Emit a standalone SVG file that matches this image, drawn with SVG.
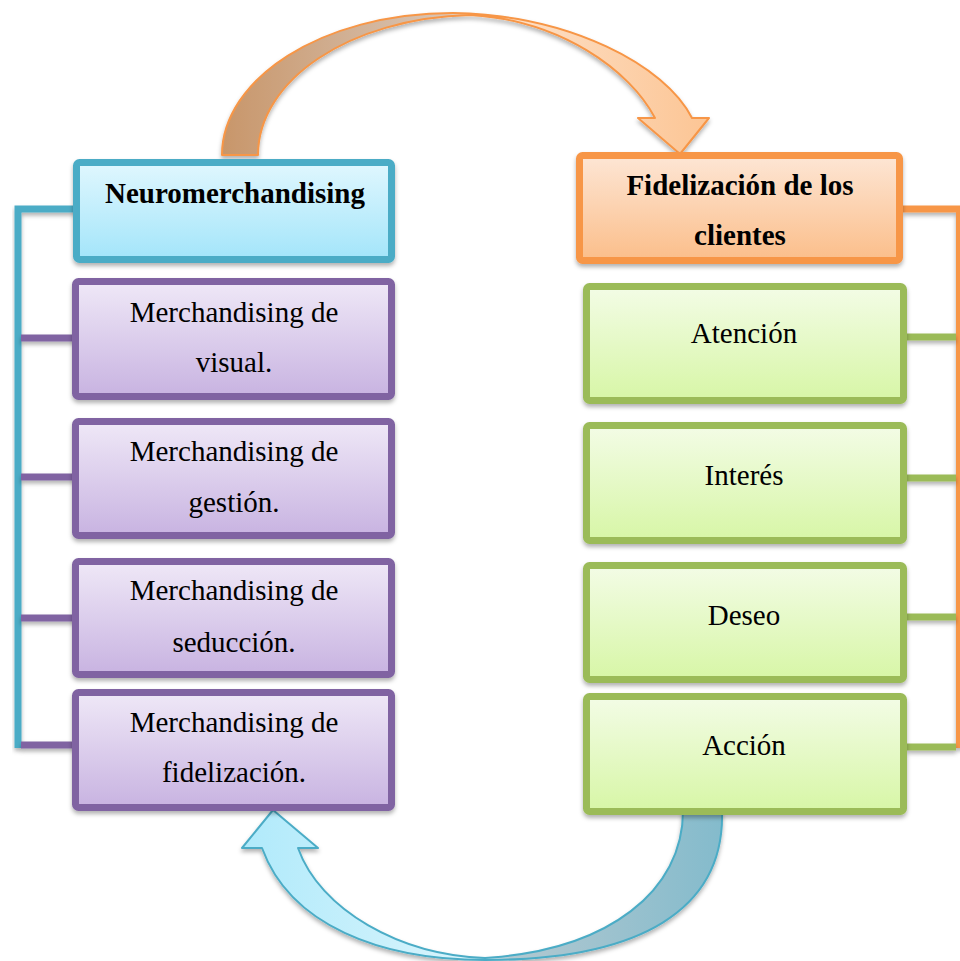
<svg xmlns="http://www.w3.org/2000/svg" width="960" height="961" viewBox="0 0 960 961">
<defs>
<filter id="sh" x="-10%" y="-10%" width="120%" height="130%">
<feDropShadow dx="0" dy="3" stdDeviation="2" flood-color="#000" flood-opacity="0.3"/>
</filter>
<linearGradient id="gBlue" x1="0" y1="0" x2="0" y2="1"><stop offset="0" stop-color="#e0f7fe"/><stop offset="1" stop-color="#a3e5fa"/></linearGradient>
<linearGradient id="gOrange" x1="0" y1="0" x2="0" y2="1"><stop offset="0" stop-color="#fde6d5"/><stop offset="1" stop-color="#fbbe8a"/></linearGradient>
<linearGradient id="gPurple" x1="0" y1="0" x2="0" y2="1"><stop offset="0" stop-color="#efe8f7"/><stop offset="1" stop-color="#c8b3e1"/></linearGradient>
<linearGradient id="gGreen" x1="0" y1="0" x2="0" y2="1"><stop offset="0" stop-color="#f3fce6"/><stop offset="1" stop-color="#d7f6a6"/></linearGradient>
<linearGradient id="gTop" gradientUnits="userSpaceOnUse" x1="222" y1="0" x2="710" y2="0">
<stop offset="0" stop-color="#c8966a"/><stop offset="0.45" stop-color="#d8c4b4"/><stop offset="0.55" stop-color="#fde3cd"/><stop offset="1" stop-color="#fcc594"/></linearGradient>
<linearGradient id="gBot" gradientUnits="userSpaceOnUse" x1="242" y1="0" x2="722" y2="0">
<stop offset="0" stop-color="#b0eafb"/><stop offset="0.5" stop-color="#dcf5fc"/><stop offset="0.56" stop-color="#b2c8d0"/><stop offset="1" stop-color="#84bbcc"/></linearGradient>
<style>
.box{stroke-width:7;filter:url(#sh)}
.blue{fill:url(#gBlue);stroke:#4bacc6}
.orange{fill:url(#gOrange);stroke:#f79646}
.purple{fill:url(#gPurple);stroke:#8064a2}
.green{fill:url(#gGreen);stroke:#9bbb59}
.t{font-family:"Liberation Serif","Times New Roman",serif;font-size:29px;fill:#000;text-anchor:middle}
.b{font-weight:bold}
.ln{fill:none;stroke-width:7;filter:url(#sh)}
</style>
</defs>

<g id="connectors">
<path class="ln" d="M18,748 V209 H76" stroke="#4bacc6"/>
<path class="ln" d="M21,338 H76 M21,477 H76 M21,618 H76 M21,745 H76" stroke="#8064a2"/>
<path class="ln" d="M903,209 H959.5 V748" stroke="#f79646"/>
<path class="ln" d="M907,337 H956 M907,478 H956 M907,617 H956 M907,747 H956" stroke="#9bbb59"/>
<path id="arrow-top" d="M222,155 C222,80 320,13 453,13 C570,15 665,65 692,118 L709,118 L680,154 L638,118 L655,118 C630,70 560,20 470,15 C350,18 258,80 258,155 Z" fill="url(#gTop)" stroke="#f79646" stroke-width="2" stroke-linejoin="round" filter="url(#sh)"/>
<path id="arrow-bottom" d="M722,811 C725,910 640,960 485,960 C380,960 290,925 262,848 L242,848 L273,810 L318,848 L298,848 C320,910 400,955 485,958 C610,950 683,890 683,811 Z" fill="url(#gBot)" stroke="#4bacc6" stroke-width="2" stroke-linejoin="round" filter="url(#sh)"/>
</g>

<g id="neuro">
<rect class="box blue" x="76.5" y="162.5" width="315" height="97" rx="3"/>
<text class="t b" x="235" y="203">Neuromerchandising</text>
</g>
<g id="visual">
<rect class="box purple" x="75.5" y="281.5" width="316" height="115" rx="3"/>
<text class="t" x="234" y="322">Merchandising de</text>
<text class="t" x="234" y="372">visual.</text>
</g>
<g id="gestion">
<rect class="box purple" x="75.5" y="421.5" width="316" height="114" rx="3"/>
<text class="t" x="234" y="461">Merchandising de</text>
<text class="t" x="234" y="512">gestión.</text>
</g>
<g id="seduccion">
<rect class="box purple" x="75.5" y="561.5" width="316" height="113" rx="3"/>
<text class="t" x="234" y="600">Merchandising de</text>
<text class="t" x="234" y="652">seducción.</text>
</g>
<g id="fidelizacion">
<rect class="box purple" x="75.5" y="692.5" width="316" height="115" rx="3"/>
<text class="t" x="234" y="732">Merchandising de</text>
<text class="t" x="234" y="782">fidelización.</text>
</g>

<g id="clientes">
<rect class="box orange" x="579.5" y="155.5" width="320" height="105" rx="3"/>
<text class="t b" x="740" y="195">Fidelización de los</text>
<text class="t b" x="740" y="245">clientes</text>
</g>
<g id="atencion">
<rect class="box green" x="586.5" y="286.5" width="317" height="114" rx="3"/>
<text class="t" x="744" y="343">Atención</text>
</g>
<g id="interes">
<rect class="box green" x="586.5" y="425.5" width="317" height="115" rx="3"/>
<text class="t" x="744" y="485">Interés</text>
</g>
<g id="deseo">
<rect class="box green" x="586.5" y="565.5" width="317" height="114" rx="3"/>
<text class="t" x="744" y="625">Deseo</text>
</g>
<g id="accion">
<rect class="box green" x="586.5" y="696.5" width="317" height="115" rx="3"/>
<text class="t" x="744" y="755">Acción</text>
</g>
</svg>
